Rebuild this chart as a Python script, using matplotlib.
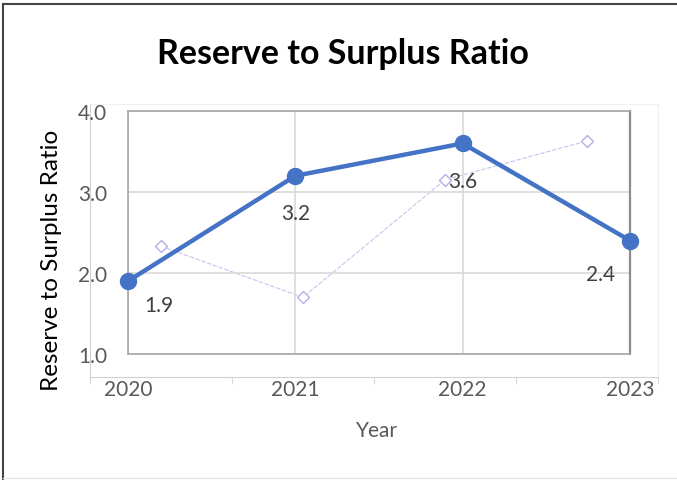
import matplotlib.pyplot as plt
from matplotlib.lines import Line2D

# data
years = [2020, 2021, 2022, 2023]
ratio = [1.9, 3.2, 3.6, 2.4]
ratio_labels = ['1.9', '3.2', '3.6', '2.4']
ghost_pos = [0.5, 1.5, 2.5, 3.5]        # faint leftover series on its own category axis
ghost_vals = [2.33, 1.70, 3.15, 3.63]
yticks = [1.0, 2.0, 3.0, 4.0]

label_offsets = [(22, -17), (0, -27), (0, -27), (-21, -24)]  # points

W, H = 677, 481
plt.rcParams['font.family'] = ['Lato', 'DejaVu Sans']

fig = plt.figure(figsize=(W / 100, H / 100), dpi=100)

def px_box(x0, x1, y0, y1):
    # pixel box (top-left origin) -> figure fraction rect
    return [x0 / W, 1 - y1 / H, (x1 - x0) / W, (y1 - y0) / H]

# faint background axis (left-over series)
ax2 = fig.add_axes(px_box(90, 658, 105, 378), zorder=0)
ax2.plot(ghost_pos, ghost_vals, color='#c4c4ee', lw=0.8, ls=(0, (4, 1.5)),
         marker='D', ms=6, mfc='white', mec='#b0b0e4', mew=1)
ax2.set_xlim(0, 4)
ax2.set_ylim(0.716, 4.086)
ax2.set_xticks([0, 1, 2, 3, 4])
ax2.set_xticklabels([])
ax2.set_yticks([])
ax2.tick_params(axis='x', length=5, color='#d9d9d9', direction='out')
for side in ['top', 'right']:
    ax2.spines[side].set_color('#f0f0f0')
for side in ['left', 'bottom']:
    ax2.spines[side].set_color('#d0d0d0')

# main chart
ax = fig.add_axes(px_box(128, 630, 112, 355), zorder=1)
ax.patch.set_alpha(0)
ax.plot(years, ratio, color='#4472C4', lw=3.2, marker='o', ms=11.5, zorder=3,
        clip_on=False)
for x, y, t, off in zip(years, ratio, ratio_labels, label_offsets):
    ax.annotate(t, (x, y), xytext=off, textcoords='offset points',
                ha='center', va='center', fontsize=15, color='#404040')

ax.set_xlim(2020, 2023)
ax.set_ylim(1, 4)
ax.set_xticks(years)
ax.set_yticks(yticks)
ax.set_yticklabels([f'{v:.1f}' for v in yticks])
ax.tick_params(length=0, labelsize=15, labelcolor='#595959')
ax.tick_params(axis='x', pad=18)
ax.tick_params(axis='y', pad=15)
ax.grid(True, color='#d9d9d9', lw=1.2)
for side in ['left', 'top', 'bottom']:
    ax.spines[side].set_color('#a6a6a6')
    ax.spines[side].set_linewidth(1.2)
ax.spines['right'].set_color('#8c8c8c')
ax.spines['right'].set_linewidth(1.6)

fig.text(343 / W, 1 - 64 / H, 'Reserve to Surplus Ratio', ha='center', va='baseline',
         fontsize=24.5, fontweight='bold', color='black')
fig.text(52 / W, 1 - 260 / H, 'Reserve to Surplus Ratio', rotation=90,
         ha='center', va='center', fontsize=17.5, color='black')
fig.text(377 / W, 1 - 431 / H, 'Year', ha='center', va='center',
         fontsize=15, color='#595959')

# outer frame bits from the screenshot
fig.add_artist(Line2D([3 / W, 3 / W], [0, 1 - 5 / H], color='#444444', lw=1.5))
fig.add_artist(Line2D([3 / W, 1], [1 - 5 / H, 1 - 5 / H], color='#444444', lw=1.5))
fig.add_artist(Line2D([3 / W, 1], [2 / H, 2 / H], color='#e6e6e6', lw=1))

fig.savefig('out.png', dpi=100)
